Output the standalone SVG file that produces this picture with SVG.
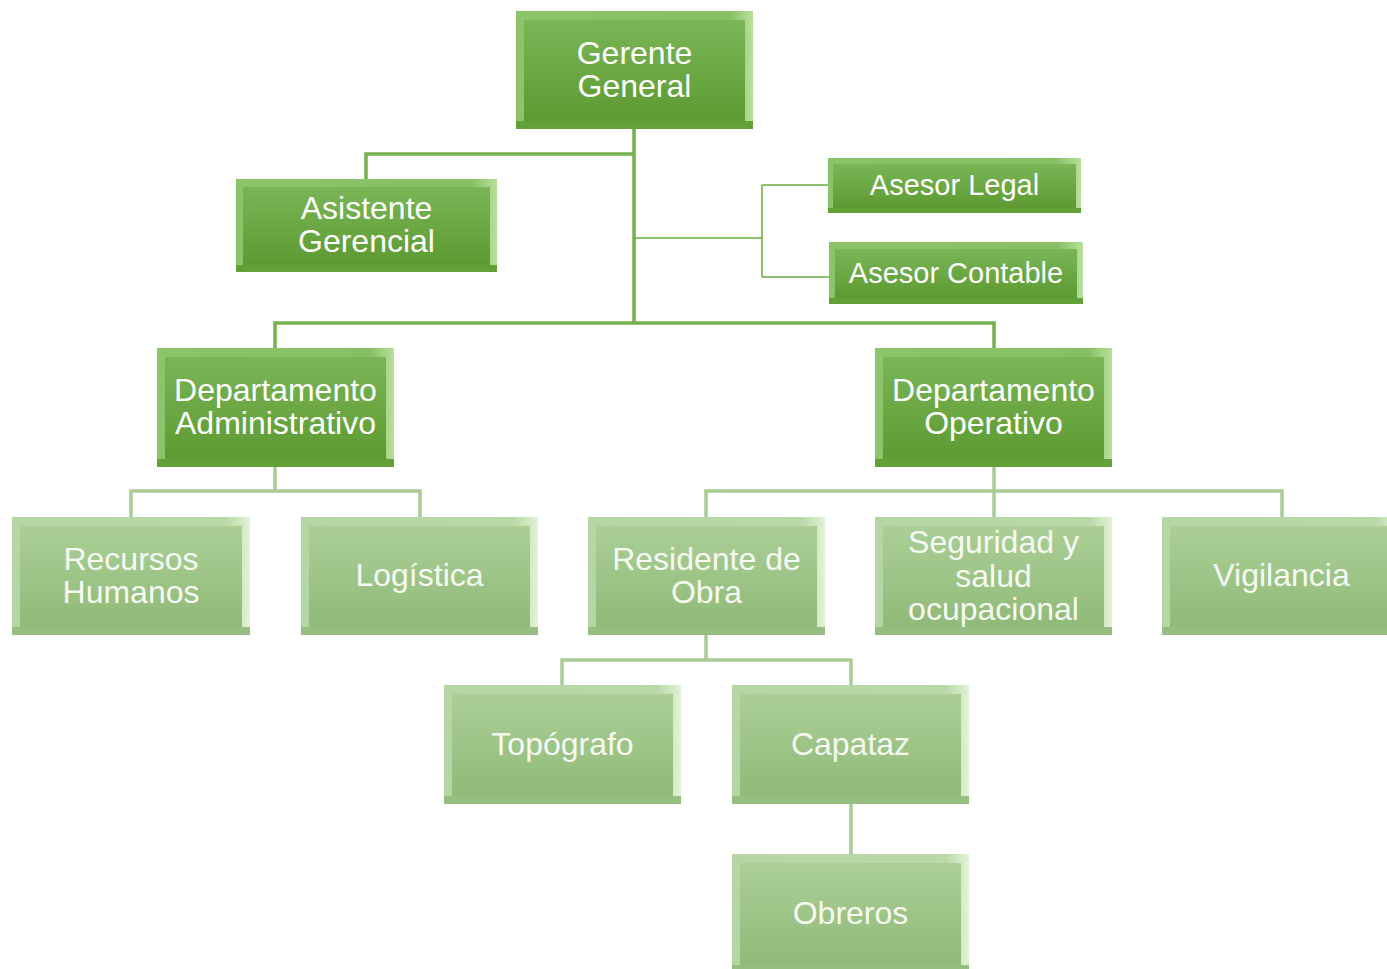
<svg xmlns="http://www.w3.org/2000/svg" width="1387" height="969" viewBox="0 0 1387 969">
<defs>
<linearGradient id="gD" x1="0" y1="0" x2="0" y2="1"><stop offset="0" stop-color="#7ab657"/><stop offset="1" stop-color="#5d9a31"/></linearGradient>
<linearGradient id="gDe" x1="0" y1="0" x2="1" y2="0"><stop offset="0" stop-color="#8cc46a"/><stop offset="0.9" stop-color="#86c063"/><stop offset="1" stop-color="#b8e09c"/></linearGradient>
<linearGradient id="gL" x1="0" y1="0" x2="0" y2="1"><stop offset="0" stop-color="#abcf97"/><stop offset="1" stop-color="#90ba78"/></linearGradient>
<linearGradient id="gLe" x1="0" y1="0" x2="1" y2="0"><stop offset="0" stop-color="#b5d6a2"/><stop offset="0.9" stop-color="#b9d9a7"/><stop offset="1" stop-color="#e2f2d6"/></linearGradient>
</defs>
<style>
.ed{fill:url(#gDe)}
.fd{fill:url(#gD)}
.bd{fill:#62a038}
.el{fill:url(#gLe)}
.fl{fill:url(#gL)}
.bl{fill:#96be80}
text{font-family:"Liberation Sans",Arial,sans-serif;font-size:32px;fill:#ffffff;text-anchor:middle}
.tl{fill:#f6faf3}
.sm{font-size:29px}
.cd{fill:none;stroke:#74b04c;stroke-width:3.5}
.cdt{fill:none;stroke:#6aad3e;stroke-width:1.5}
.cl{fill:none;stroke:#a9cc94;stroke-width:3.5}
</style>
<g id="connectors">
<path class="cd" d="M634 129V323M634 154H366V179M275 348V323H994V348"/>
<path class="cdt" d="M634 238H762M762 185V277M762 185H828M762 277H829"/>
<path class="cl" d="M275 467V491M131 517V491H420V517M994 467V491M706 517V491H1282V517M994 491V517M706 635V660M562 685V660H851V685M851 804V854"/>
</g>
<g id="gerente-general">
<rect class="ed" x="516" y="11" width="237" height="118"/>
<rect class="bd" x="516" y="121" width="237" height="8"/>
<rect class="fd" x="524" y="20" width="221" height="101"/>
<text x="634.5" y="64">Gerente</text><text x="634.5" y="97">General</text>
</g>
<g id="asistente-gerencial">
<rect class="ed" x="236" y="179" width="261" height="93"/>
<rect class="bd" x="236" y="265" width="261" height="7"/>
<rect class="fd" x="243" y="187" width="247" height="78"/>
<text x="366.5" y="219">Asistente</text><text x="366.5" y="252">Gerencial</text>
</g>
<g id="asesor-legal">
<rect class="ed" x="828" y="158" width="253" height="55"/>
<rect class="bd" x="828" y="208" width="253" height="5"/>
<rect class="fd" x="833" y="164" width="243" height="44"/>
<text class="sm" x="954.5" y="195">Asesor Legal</text>
</g>
<g id="asesor-contable">
<rect class="ed" x="829" y="242" width="254" height="62"/>
<rect class="bd" x="829" y="298" width="254" height="6"/>
<rect class="fd" x="835" y="249" width="242" height="49"/>
<text class="sm" x="956" y="283">Asesor Contable</text>
</g>
<g id="departamento-administrativo">
<rect class="ed" x="157" y="348" width="237" height="119"/>
<rect class="bd" x="157" y="459" width="237" height="8"/>
<rect class="fd" x="165" y="357" width="221" height="102"/>
<text x="275.5" y="401">Departamento</text><text x="275.5" y="434">Administrativo</text>
</g>
<g id="departamento-operativo">
<rect class="ed" x="875" y="348" width="237" height="119"/>
<rect class="bd" x="875" y="459" width="237" height="8"/>
<rect class="fd" x="883" y="357" width="221" height="102"/>
<text x="993.5" y="401">Departamento</text><text x="993.5" y="434">Operativo</text>
</g>
<g id="recursos-humanos">
<rect class="el" x="12" y="517" width="238" height="118"/>
<rect class="bl" x="12" y="627" width="238" height="8"/>
<rect class="fl" x="20" y="526" width="222" height="101"/>
<text class="tl" x="131" y="570">Recursos</text><text class="tl" x="131" y="603">Humanos</text>
</g>
<g id="logistica">
<rect class="el" x="301" y="517" width="237" height="118"/>
<rect class="bl" x="301" y="627" width="237" height="8"/>
<rect class="fl" x="309" y="526" width="221" height="101"/>
<text class="tl" x="419.5" y="586">Logística</text>
</g>
<g id="residente-de-obra">
<rect class="el" x="588" y="517" width="237" height="118"/>
<rect class="bl" x="588" y="627" width="237" height="8"/>
<rect class="fl" x="596" y="526" width="221" height="101"/>
<text class="tl" x="706.5" y="570">Residente de</text><text class="tl" x="706.5" y="603">Obra</text>
</g>
<g id="seguridad-y-salud-ocupacional">
<rect class="el" x="875" y="517" width="237" height="118"/>
<rect class="bl" x="875" y="627" width="237" height="8"/>
<rect class="fl" x="883" y="526" width="221" height="101"/>
<text class="tl" x="993.5" y="553">Seguridad y</text><text class="tl" x="993.5" y="587">salud</text><text class="tl" x="993.5" y="620">ocupacional</text>
</g>
<g id="vigilancia">
<rect class="el" x="1162" y="517" width="237" height="118"/>
<rect class="bl" x="1162" y="627" width="237" height="8"/>
<rect class="fl" x="1170" y="526" width="221" height="101"/>
<text class="tl" x="1281.5" y="586">Vigilancia</text>
</g>
<g id="topografo">
<rect class="el" x="444" y="685" width="237" height="119"/>
<rect class="bl" x="444" y="796" width="237" height="8"/>
<rect class="fl" x="452" y="694" width="221" height="102"/>
<text class="tl" x="562.5" y="755">Topógrafo</text>
</g>
<g id="capataz">
<rect class="el" x="732" y="685" width="237" height="119"/>
<rect class="bl" x="732" y="796" width="237" height="8"/>
<rect class="fl" x="740" y="694" width="221" height="102"/>
<text class="tl" x="850.5" y="755">Capataz</text>
</g>
<g id="obreros">
<rect class="el" x="732" y="854" width="237" height="119"/>
<rect class="bl" x="732" y="965" width="237" height="8"/>
<rect class="fl" x="740" y="863" width="221" height="102"/>
<text class="tl" x="850.5" y="924">Obreros</text>
</g>
</svg>
